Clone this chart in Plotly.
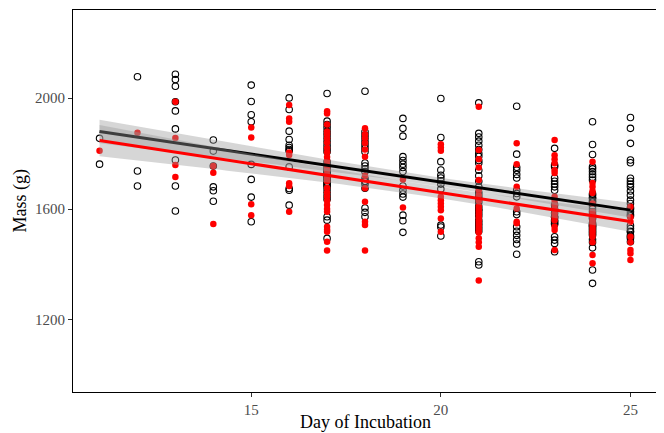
import numpy as np
import plotly.graph_objects as go

# ---- data (mass in g per day of incubation) ----
days = list(range(11, 26))

black_mass = {
    11: [1855, 1762],
    12: [2077, 1737, 1683],
    13: [2086, 2067, 2043, 1987, 1954, 1889, 1777, 1683, 1593],
    14: [1849, 1809, 1755, 1680, 1666, 1628],
    15: [2047, 1988, 1940, 1915, 1761, 1707, 1643, 1554],
    16: [2001, 1959, 1881, 1851, 1830, 1822, 1815, 1810, 1752, 1674, 1668, 1614],
    17: [2017, 1917, 1905, 1893, 1880, 1868, 1855, 1843, 1830, 1818, 1807, 1770,
         1758, 1745, 1733, 1720, 1708, 1696, 1686, 1572, 1560, 1494,
         1745, 1735, 1725, 1720, 1710, 1697, 1685, 1673, 1660, 1647, 1635],
    18: [2025, 1879, 1867, 1855, 1843, 1831, 1819, 1807, 1766, 1755, 1745, 1735,
         1699, 1604, 1588, 1572, 1710, 1700, 1690, 1675],
    19: [1927, 1891, 1863, 1789, 1775, 1762, 1750, 1735, 1683, 1668, 1654, 1643,
         1578, 1558, 1516],
    20: [1999, 1858, 1771, 1741, 1722, 1712, 1702, 1690, 1672, 1542, 1535, 1503],
    21: [1983, 1873, 1860, 1845, 1830, 1815, 1800, 1790, 1775, 1766, 1740, 1720,
         1700, 1680, 1660, 1640, 1600, 1560, 1520, 1410, 1398,
         1650, 1635, 1625, 1610, 1595, 1585, 1575, 1550, 1540, 1530],
    22: [1971, 1798, 1751, 1740, 1725, 1712, 1668, 1656, 1644, 1536, 1520, 1505,
         1490, 1474, 1437, 1590, 1580],
    23: [1819, 1759, 1753, 1712, 1700, 1690, 1680, 1668, 1572, 1560, 1549, 1500,
         1488, 1476, 1446, 1615, 1600, 1585, 1570, 1555, 1545],
    24: [1915, 1833, 1797, 1752, 1745, 1735, 1725, 1715, 1705, 1650, 1640, 1630,
         1610, 1600, 1590, 1570, 1550, 1540, 1530, 1510, 1490, 1380, 1332,
         1655, 1640, 1625, 1580, 1565, 1540, 1520, 1480, 1460, 1545, 1535, 1525,
         1515, 1505],
    25: [1930, 1891, 1837, 1777, 1767, 1711, 1700, 1690, 1680, 1665, 1650, 1632,
         1600, 1590, 1575, 1518, 1500, 1482, 1620, 1605, 1580, 1520, 1505,
         1540, 1530, 1495],
}

red_mass = {
    11: [1810],
    12: [1875],
    13: [1987, 1856, 1759, 1716],
    14: [1755, 1731, 1546],
    15: [1894, 1858, 1617, 1578],
    16: [1975, 1927, 1915, 1804, 1795, 1693, 1683, 1590],
    17: [1953, 1945, 1880, 1855, 1820, 1788, 1760, 1740, 1700, 1676, 1660, 1645,
         1630, 1615, 1600, 1590, 1536, 1525, 1518, 1482, 1450,
         1905, 1870, 1840, 1805, 1775, 1750, 1725, 1710],
    18: [1891, 1838, 1815, 1789, 1720, 1675, 1626, 1554, 1542, 1450, 1870, 1855],
    19: [1707, 1606],
    20: [1834, 1822, 1810, 1644, 1632, 1620, 1608, 1596, 1566, 1518],
    21: [1969, 1813, 1780, 1750, 1705, 1668, 1650, 1630, 1610, 1590, 1570, 1550,
         1530, 1515, 1495, 1480, 1464, 1342, 1600, 1580, 1560, 1540, 1520],
    22: [1837, 1762, 1680, 1602, 1554, 1549],
    23: [1849, 1794, 1780, 1765, 1740, 1730, 1644, 1630, 1615, 1600, 1584, 1536,
         1524, 1452, 1570, 1560],
    24: [1771, 1694, 1680, 1665, 1658, 1620, 1580, 1560, 1520, 1500, 1480, 1434, 1404,
         1590, 1570, 1550, 1540, 1530, 1510],
    25: [1608, 1570, 1554, 1452, 1440, 1416, 1500, 1480],
}

x_ticks = [15, 20, 25]
y_ticks = [1200, 1600, 2000]


def flatten(d):
    xs, ys = [], []
    for k in days:
        for v in d.get(k, []):
            xs.append(k)
            ys.append(v)
    return np.array(xs, float), np.array(ys, float)


def lm_ci(x, y, grid, t=1.97):
    n = len(x)
    b, a = np.polyfit(x, y, 1)
    resid = y - (a + b * x)
    s = np.sqrt(np.sum(resid ** 2) / (n - 2))
    xbar = x.mean()
    sxx = np.sum((x - xbar) ** 2)
    fit = a + b * grid
    se = s * np.sqrt(1.0 / n + (grid - xbar) ** 2 / sxx)
    return fit, fit - t * se, fit + t * se


bx, by = flatten(black_mass)
rx, ry = flatten(red_mass)
grid = np.linspace(11, 25, 80)

fig = go.Figure()

fig.add_trace(go.Scatter(
    x=bx, y=by, mode="markers",
    marker=dict(symbol="circle-open", size=6.5, color="black", line=dict(width=1.1)),
    showlegend=False, hoverinfo="skip"))
fig.add_trace(go.Scatter(
    x=rx, y=ry, mode="markers",
    marker=dict(symbol="circle", size=6.5, color="#FF0000"),
    showlegend=False, hoverinfo="skip"))

for (x, y, col) in [(bx, by, "black"), (rx, ry, "#FF0000")]:
    fit, lo, hi = lm_ci(x, y, grid)
    fig.add_trace(go.Scatter(
        x=np.concatenate([grid, grid[::-1]]),
        y=np.concatenate([hi, lo[::-1]]),
        fill="toself", fillcolor="rgba(153,153,153,0.4)",
        line=dict(width=0), mode="lines", showlegend=False, hoverinfo="skip"))
    fig.add_trace(go.Scatter(
        x=grid, y=fit, mode="lines", line=dict(color=col, width=3),
        showlegend=False, hoverinfo="skip"))

axis_common = dict(
    showgrid=False, zeroline=False, showline=True, linecolor="black", linewidth=1.2,
    mirror=True, ticks="outside", ticklen=4, tickcolor="#333333", tickwidth=1,
    tickfont=dict(family="Liberation Serif", size=15, color="#4D4D4D"),
    automargin=False,
)

title_font = dict(family="Liberation Serif", size=18, color="black")
fig.update_xaxes(range=[10.3, 25.7], tickvals=x_ticks, **axis_common)
fig.update_yaxes(range=[940, 2318], tickvals=y_ticks, **axis_common)

fig.add_annotation(text="Day of Incubation", xref="paper", yref="paper",
                   x=0.5, y=0, xanchor="center", yanchor="top", yshift=-18,
                   showarrow=False, font=title_font)
fig.add_annotation(text="Mass (g)", xref="paper", yref="paper",
                   x=0, y=0.5, xanchor="right", yanchor="middle", xshift=-41,
                   textangle=-90, showarrow=False, font=title_font)

# the page body adds an 8 px offset, so the figure is sized to fit the window
fig.update_layout(
    width=656, height=425,
    margin=dict(l=65, r=7, t=2, b=41),
    paper_bgcolor="white", plot_bgcolor="white",
    font=dict(family="Liberation Serif"),
)

fig.write_html("out.html")
